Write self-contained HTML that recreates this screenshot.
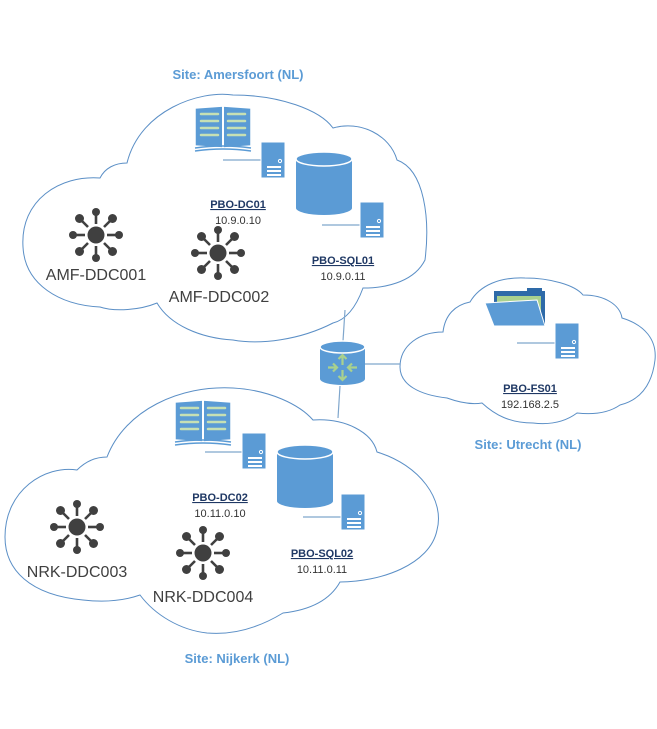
<!DOCTYPE html>
<html><head><meta charset="utf-8"><style>
html,body{margin:0;padding:0;background:#fff;}
svg{display:block;}
.lbl{font-family:"Liberation Sans",sans-serif;font-size:11px;font-weight:bold;fill:#1f3864;text-decoration:underline;}
.ip{font-family:"Liberation Sans",sans-serif;font-size:11px;fill:#333;}
.site{font-family:"Liberation Sans",sans-serif;font-size:13px;font-weight:bold;fill:#5b9bd5;}
.dd{font-family:"Liberation Sans",sans-serif;font-size:16px;fill:#404040;}
</style></head><body>
<svg width="657" height="729" viewBox="0 0 657 729" xmlns="http://www.w3.org/2000/svg">
<defs>
<g id="server"><rect x="0" y="0" width="24" height="36" fill="#5b9bd5" stroke="#fff" stroke-width="1"/><circle cx="19" cy="19" r="1.6" fill="none" stroke="#fff" stroke-width="1"/><rect x="6" y="24" width="14" height="2" fill="#fff"/><rect x="6" y="28" width="14" height="2" fill="#fff"/><rect x="6" y="32" width="14" height="2" fill="#fff"/></g>
<g id="hub" fill="#404040" stroke="#404040">
<circle r="8.5" stroke="none"/>
<g stroke-width="2.6">
<line x1="0" y1="-11" x2="0" y2="-22"/><line x1="0" y1="11" x2="0" y2="22"/>
<line x1="-11" y1="0" x2="-22" y2="0"/><line x1="11" y1="0" x2="22" y2="0"/>
<line x1="8" y1="-8" x2="15" y2="-15"/><line x1="-8" y1="-8" x2="-15" y2="-15"/>
<line x1="8" y1="8" x2="15" y2="15"/><line x1="-8" y1="8" x2="-15" y2="15"/></g>
<g stroke="none"><circle cx="0" cy="-23" r="4"/><circle cx="0" cy="23" r="4"/><circle cx="-23" cy="0" r="4"/><circle cx="23" cy="0" r="4"/>
<circle cx="16.5" cy="-16.5" r="4.5"/><circle cx="-16.5" cy="-16.5" r="4.5"/><circle cx="16.5" cy="16.5" r="4.5"/><circle cx="-16.5" cy="16.5" r="4.5"/></g></g>
<g id="book">
<path d="M2,4 L30,2 L58,4 L58,42 L30,44 L2,42 Z" fill="#5b9bd5" stroke="#fff" stroke-width="1.5"/>
<line x1="30" y1="2" x2="30" y2="44" stroke="#fff" stroke-width="2"/>
<g stroke="#c6e0b4" stroke-width="2.5" stroke-linecap="round">
<line x1="8" y1="10" x2="25" y2="10"/><line x1="8" y1="17" x2="25" y2="17"/><line x1="8" y1="24" x2="25" y2="24"/><line x1="8" y1="31" x2="25" y2="31"/>
<line x1="35" y1="10" x2="52" y2="10"/><line x1="35" y1="17" x2="52" y2="17"/><line x1="35" y1="24" x2="52" y2="24"/><line x1="35" y1="31" x2="52" y2="31"/></g>
<path d="M2,44 Q30,40 58,44 M2,47 Q30,43 58,47" stroke="#5b9bd5" stroke-width="1.5" fill="none"/></g>
<g id="db"><path d="M0,7 L0,56 A28,7 0 0 0 56,56 L56,7" fill="#5b9bd5"/><ellipse cx="28" cy="7" rx="28" ry="7" fill="#5b9bd5" stroke="#fff" stroke-width="1.5"/></g>
</defs>

<!-- clouds -->
<g fill="none" stroke="#5b8fc6" stroke-width="1">
<path d="M23,247 C20,200 60,175 100,178 C105,168 115,163 127,163 C140,110 200,90 233,95 C280,95 320,110 333,128 C360,120 390,135 397,160 C425,170 430,220 425,260 C415,280 390,288 363,288 C355,310 345,320 333,323 C300,340 260,345 233,340 C200,338 170,325 157,303 C140,310 115,312 100,307 C60,305 25,285 23,247 Z"/>
<path d="M5,537 C5,490 45,465 77,470 C85,462 95,457 107,457 C125,410 180,385 233,388 C270,390 300,405 313,420 C345,418 372,432 377,452 C420,465 445,500 437,530 C430,565 380,582 340,582 C330,600 310,610 283,613 C255,630 230,635 207,633 C180,630 155,615 140,595 C120,602 100,602 83,600 C30,595 5,570 5,537 Z"/>
<path d="M400,367 C400,345 420,332 443,332 C445,315 455,305 470,302 C480,285 500,277 525,278 C550,278 575,285 583,295 C605,295 620,305 622,318 C645,325 657,340 655,360 C652,385 640,400 620,405 C610,412 595,415 577,413 C565,422 550,425 533,423 C510,423 495,415 482,403 C470,405 458,402 447,398 C420,395 400,385 400,367 Z"/>
</g>

<!-- connectors -->
<g stroke="#7fa6cc" stroke-width="1.2">
<line x1="345" y1="310" x2="343" y2="341"/>
<line x1="340" y1="386" x2="338" y2="418"/>
<line x1="365" y1="364" x2="400" y2="364"/>
<line x1="223" y1="160" x2="262" y2="160"/>
<line x1="322" y1="225" x2="361" y2="225"/>
<line x1="205" y1="452" x2="242" y2="452"/>
<line x1="303" y1="517" x2="342" y2="517"/>
<line x1="517" y1="343" x2="555" y2="343"/>
</g>

<!-- router -->
<g transform="translate(320,341)">
<path d="M0,6 L0,38 A22.5,6 0 0 0 45,38 L45,6" fill="#5b9bd5"/>
<ellipse cx="22.5" cy="6" rx="22.5" ry="6" fill="#5b9bd5" stroke="#fff" stroke-width="1.5"/>
<g stroke="#a9d18e" stroke-width="2.2" fill="none">
<path d="M22.5,24 V14 M18.5,18 L22.5,14 L26.5,18"/>
<path d="M22.5,29 V39 M18.5,35 L22.5,39 L26.5,35"/>
<path d="M8,26.5 H17 M13,22.5 L17,26.5 L13,30.5"/>
<path d="M37,26.5 H28 M32,22.5 L28,26.5 L32,30.5"/></g></g>

<!-- top site -->
<use href="#book" x="193" y="104"/>
<use href="#server" x="261" y="142"/>
<use href="#db" x="296" y="152"/>
<use href="#server" x="360" y="202"/>
<use href="#hub" x="96" y="235"/>
<use href="#hub" x="218" y="253"/>
<text class="site" x="238" y="79" text-anchor="middle">Site: Amersfoort (NL)</text>
<text class="lbl" x="238" y="208" text-anchor="middle">PBO-DC01</text>
<text class="ip" x="238" y="224" text-anchor="middle">10.9.0.10</text>
<text class="lbl" x="343" y="264" text-anchor="middle">PBO-SQL01</text>
<text class="ip" x="343" y="280" text-anchor="middle">10.9.0.11</text>
<text class="dd" x="96" y="280" text-anchor="middle">AMF-DDC001</text>
<text class="dd" x="219" y="302" text-anchor="middle">AMF-DDC002</text>

<!-- right site -->
<path d="M494,291 H527 V288 H542 V291 H545 V326 H494 Z" fill="#2e6aa8"/>
<rect x="497" y="296" width="44" height="28" fill="#a9d18e"/>
<path d="M485,303 L537,300 L545,326 L494,326 Z" fill="#5b9bd5" stroke="#fff" stroke-width="1"/>
<use href="#server" x="555" y="323"/>
<text class="lbl" x="530" y="392" text-anchor="middle">PBO-FS01</text>
<text class="ip" x="530" y="408" text-anchor="middle">192.168.2.5</text>
<text class="site" x="528" y="449" text-anchor="middle">Site: Utrecht (NL)</text>

<!-- bottom site -->
<use href="#book" x="173" y="398"/>
<use href="#server" x="242" y="433"/>
<use href="#db" x="277" y="445"/>
<use href="#server" x="341" y="494"/>
<use href="#hub" x="77" y="527"/>
<use href="#hub" x="203" y="553"/>
<text class="lbl" x="220" y="501" text-anchor="middle">PBO-DC02</text>
<text class="ip" x="220" y="517" text-anchor="middle">10.11.0.10</text>
<text class="lbl" x="322" y="557" text-anchor="middle">PBO-SQL02</text>
<text class="ip" x="322" y="573" text-anchor="middle">10.11.0.11</text>
<text class="dd" x="77" y="577" text-anchor="middle">NRK-DDC003</text>
<text class="dd" x="203" y="602" text-anchor="middle">NRK-DDC004</text>
<text class="site" x="237" y="663" text-anchor="middle">Site: Nijkerk (NL)</text>
</svg>
</body></html>
